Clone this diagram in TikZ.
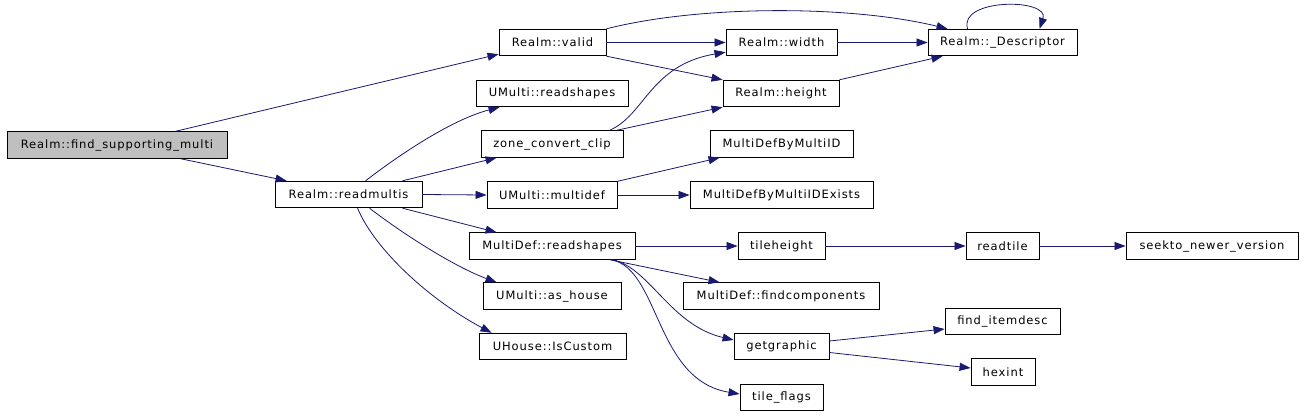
\documentclass[tikz,border=0pt]{standalone}
\usepackage{fontspec}
\setmainfont{DejaVu Sans}[LetterSpace=8]
\usetikzlibrary{arrows.meta}
\definecolor{edgeblue}{HTML}{191970}
\definecolor{rootgray}{HTML}{BFBFBF}
\tikzset{
  fn/.style={draw=black, line width=0.9pt, fill=white, minimum height=26.5pt, inner sep=0pt,
    font=\fontsize{11.5}{13}\selectfont},
  root/.style={fn, fill=rootgray},
  call/.style={draw=edgeblue, line width=0.8pt, -{Triangle[length=11pt,width=8pt]}},
}
\begin{document}
\begin{tikzpicture}[x=1pt,y=-1pt]
\useasboundingbox (0,0) rectangle (1304,416);
% nodes
\node[root, minimum width=220pt] (fsm) at (117,145) {Realm::find\_supporting\_multi};
\node[fn, minimum width=147pt] (rm) at (348.5,194.5) {Realm::readmultis};
\node[fn, minimum width=107pt] (valid) at (552.5,42.5) {Realm::valid};
\node[fn, minimum width=111pt] (width) at (781.5,42.5) {Realm::width};
\node[fn, minimum width=116pt] (height) at (781,93.5) {Realm::height};
\node[fn, minimum width=149pt] (desc) at (1002.5,42.5) {Realm::\_Descriptor};
\node[fn, minimum width=152pt] (urs) at (552,93.5) {UMulti::readshapes};
\node[fn, minimum width=142pt] (zcc) at (552,144) {zone\_convert\_clip};
\node[fn, minimum width=143pt] (mdid) at (781.5,144) {MultiDefByMultiID};
\node[fn, minimum width=130pt] (umd) at (552,195) {UMulti::multidef};
\node[fn, minimum width=183pt] (mdex) at (781.5,195) {MultiDefByMultiIDExists};
\node[fn, minimum width=166pt] (mdrs) at (552,246) {MultiDef::readshapes};
\node[fn, minimum width=87pt] (th) at (781.5,246) {tileheight};
\node[fn, minimum width=73pt] (rt) at (1002.5,246) {readtile};
\node[fn, minimum width=172pt] (seek) at (1212,246) {seekto\_newer\_version};
\node[fn, minimum width=196pt] (fc) at (781,296) {MultiDef::findcomponents};
\node[fn, minimum width=95pt] (gg) at (781.5,346.5) {getgraphic};
\node[fn, minimum width=83pt] (tf) at (781.5,397.5) {tile\_flags};
\node[fn, minimum width=115pt] (fid) at (1002.5,321.5) {find\_itemdesc};
\node[fn, minimum width=64pt] (hex) at (1003,372) {hexint};
\node[fn, minimum width=138pt] (ash) at (552,296) {UMulti::as\_house};
\node[fn, minimum width=147pt] (ic) at (552.5,346.5) {UHouse::IsCustom};
% edges
\draw[call] ([xshift=169pt]fsm.north west) -- ([yshift=2pt]valid.south west);
\draw[call] ([xshift=174pt]fsm.south west) -- ([xshift=12pt]rm.north west);
\draw[call] ([xshift=91pt]rm.north west) .. controls (395,158) and (450,120) .. ([xshift=24pt]urs.south west);
\draw[call] ([xshift=128pt]rm.north west) -- ([xshift=16pt]zcc.south west);
\draw[call] (rm.east) -- (umd.west);
\draw[call] ([xshift=128pt]rm.south west) -- ([xshift=28pt]mdrs.north west);
\draw[call] ([xshift=95pt]rm.south west) .. controls (395,228) and (450,265) .. ([xshift=14pt]ash.north west);
\draw[call] ([xshift=83pt]rm.south west) .. controls (375,250) and (430,300) .. ([xshift=13pt]ic.north west);
\draw[call] (valid.east) -- (width.west);
\draw[call] (valid.south east) -- (height.north west);
\draw[call] (valid.north east) .. controls (700,5) and (850,5) .. ([xshift=20pt]desc.north west);
\draw[call] (width.east) -- (desc.west);
\draw[call] (height.north east) -- ([xshift=15pt]desc.south west);
\draw[call] ([xshift=40pt]desc.north west) .. controls (958,-2) and (1050,-2) .. ([xshift=112pt]desc.north west);
\draw[call] ([xshift=129pt]zcc.north west) .. controls (645,115) and (650,65) .. ([yshift=4pt]width.south west);
\draw[call] ([xshift=136pt]zcc.north west) -- (height.south west);
\draw[call] (umd.north east) -- ([xshift=10pt]mdid.south west);
\draw[call] (umd.east) -- (mdex.west);
\draw[call] (mdrs.east) -- (th.west);
\draw[call] ([xshift=141pt]mdrs.south west) -- ([xshift=37pt]fc.north west);
\draw[call] ([xshift=144pt]mdrs.south west) .. controls (650,268) and (670,325) .. ([yshift=6.5pt]gg.west);
\draw[call] ([xshift=143pt]mdrs.south west) .. controls (660,270) and (655,380) .. ([yshift=3.5pt]tf.west);
\draw[call] (th.east) -- (rt.west);
\draw[call] (rt.east) -- (seek.west);
\draw[call] ([yshift=5.5pt]gg.east) -- ([yshift=-7.5pt]fid.west);
\draw[call] ([yshift=-6pt]gg.east) -- ([yshift=4pt]hex.west);
\end{tikzpicture}
\end{document}
